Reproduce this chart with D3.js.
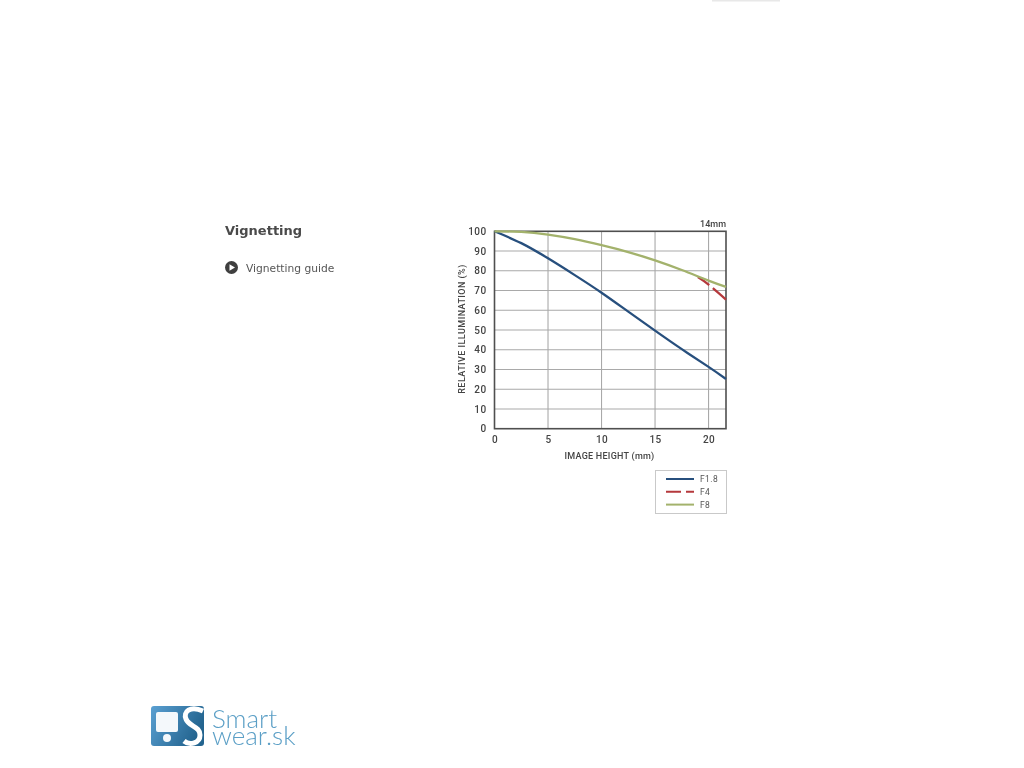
<!DOCTYPE html>
<html>
<head>
<meta charset="utf-8">
<script src="https://cdn.jsdelivr.net/npm/d3@7"></script>
<style>
body { margin: 0; background: #fff; overflow: hidden; }
svg { display: block; filter: blur(0.45px); }
.tick text { font-family: Roboto, sans-serif; font-size: 10px; font-weight: 500; fill: #444; letter-spacing: 0.4px; }
.label { font-family: Roboto, sans-serif; font-size: 9px; font-weight: 500; fill: #444; }
</style>
</head>
<body>
<div id="graph-location"></div>
<script>
var xTicks = [0, 5, 10, 15, 20];
var yTicks = [0, 10, 20, 30, 40, 50, 60, 70, 80, 90, 100];

var f18X = [0, 2.5, 5, 7.5, 10, 12.5, 15, 17.5, 20, 21.63];
var f18Y = [100, 94, 86.3, 77.8, 68.9, 59.3, 49.7, 40.3, 31.3, 25.2];
var f4X = [19, 20, 21.63];
var f4Y = [76.8, 73, 65.4];
var f8X = [0, 2.5, 5, 7.5, 10, 12.5, 15, 17.5, 20, 21.63];
var f8Y = [100, 99.7, 98.3, 96, 93, 89.5, 85.3, 80.4, 75, 71.8];

var seriesNames = ["F1.8", "F4", "F8"];
var seriesColors = ["#274f7d", "#b5393c", "#a3b26c"];

var svg = d3.select("#graph-location")
    .append("svg")
    .attr("width", 1024)
    .attr("height", 768);

var x = d3.scaleLinear().domain([0, 21.63]).range([494.5, 726]);
var y = d3.scaleLinear().domain([0, 100]).range([428.7, 231.3]);

//faint strip left at the top edge of the page
svg.append("rect").attr("x", 712).attr("y", 0).attr("width", 68).attr("height", 1.5).attr("fill", "#e8e8e8");

//gridlines
svg.append("g").selectAll("line").data(xTicks.slice(1))
    .join("line")
    .attr("x1", d => x(d)).attr("x2", d => x(d))
    .attr("y1", y(100)).attr("y2", y(0))
    .attr("stroke", "#a9a9a9").attr("stroke-width", 1.1);
svg.append("g").selectAll("line").data(yTicks.slice(1, -1))
    .join("line")
    .attr("x1", x(0)).attr("x2", x(21.63))
    .attr("y1", d => y(d)).attr("y2", d => y(d))
    .attr("stroke", "#a9a9a9").attr("stroke-width", 1.1);

//axes
svg.append("g")
    .attr("transform", "translate(0," + y(0) + ")")
    .call(d3.axisBottom(x).tickValues(xTicks).tickSize(0).tickPadding(7))
    .call(g => g.select(".domain").remove());
svg.append("g")
    .attr("transform", "translate(" + x(0) + ",0)")
    .call(d3.axisLeft(y).tickValues(yTicks).tickSize(0).tickPadding(8))
    .call(g => g.select(".domain").remove());

//frame
svg.append("rect")
    .attr("x", x(0)).attr("y", y(100))
    .attr("width", x(21.63) - x(0)).attr("height", y(0) - y(100))
    .attr("fill", "none").attr("stroke", "#4f4f4f").attr("stroke-width", 1.6);

var line = d3.line().x(d => x(d[0])).y(d => y(d[1])).curve(d3.curveNatural);

//curves
svg.append("path").datum(d3.zip(f18X, f18Y))
    .attr("d", line).attr("fill", "none")
    .attr("stroke", seriesColors[0]).attr("stroke-width", 2.3);
svg.append("path").datum(d3.zip(f4X, f4Y))
    .attr("d", line).attr("fill", "none")
    .attr("stroke", seriesColors[1]).attr("stroke-width", 2.3)
    .attr("stroke-dasharray", "14 5 20");
svg.append("path").datum(d3.zip(f8X, f8Y))
    .attr("d", line).attr("fill", "none")
    .attr("stroke", seriesColors[2]).attr("stroke-width", 2.3);

//axis labels
svg.append("text").attr("class", "label")
    .attr("x", 609.5).attr("y", 458.5)
    .attr("text-anchor", "middle")
    .attr("letter-spacing", 0.25)
    .text("IMAGE HEIGHT (mm)");
svg.append("text").attr("class", "label")
    .attr("transform", "translate(464.5,329) rotate(-90)")
    .attr("text-anchor", "middle")
    .attr("letter-spacing", 0.45)
    .text("RELATIVE ILLUMINATION  (%)");
svg.append("text").attr("class", "label")
    .attr("x", 726).attr("y", 227)
    .attr("text-anchor", "end")
    .text("14mm");

//legend
svg.append("rect")
    .attr("x", 655.5).attr("y", 470.5)
    .attr("width", 71).attr("height", 43)
    .attr("fill", "#fff").attr("stroke", "#c9c9c9");
var legend = svg.append("g").selectAll("g").data(seriesNames)
    .join("g")
    .attr("transform", (d, i) => "translate(666," + (479 + i * 12.8) + ")");
legend.append("line")
    .attr("x1", 0).attr("x2", 28)
    .attr("stroke", (d, i) => seriesColors[i])
    .attr("stroke-width", 2)
    .attr("stroke-dasharray", (d, i) => i === 1 ? "15 5 8" : null);
legend.append("text")
    .attr("x", 34).attr("y", 3)
    .attr("font-family", "Roboto, sans-serif")
    .attr("font-size", 8.5)
    .attr("letter-spacing", 0.4)
    .attr("fill", "#555")
    .text(d => d);

//left column
svg.append("text")
    .attr("x", 225).attr("y", 235)
    .attr("font-family", "'DejaVu Sans', sans-serif")
    .attr("font-size", 13)
    .attr("font-weight", "bold")
    .attr("fill", "#4a4a4a")
    .text("Vignetting");
svg.append("circle").attr("cx", 231.5).attr("cy", 267.5).attr("r", 6.5).attr("fill", "#3f3f3f");
svg.append("path").attr("d", "M229.5,264.3 L235,267.5 L229.5,270.7 Z").attr("fill", "#fff");
svg.append("text")
    .attr("x", 246).attr("y", 272)
    .attr("font-family", "'DejaVu Sans', sans-serif")
    .attr("font-size", 10.7)
    .attr("fill", "#555")
    .text("Vignetting guide");

//logo
var grad = svg.append("defs").append("linearGradient").attr("id", "logoBlue")
    .attr("x1", 0).attr("x2", 1).attr("y1", 0).attr("y2", 0.4);
grad.append("stop").attr("offset", 0).attr("stop-color", "#5aa0d2");
grad.append("stop").attr("offset", 1).attr("stop-color", "#23648f");
svg.append("rect").attr("x", 151).attr("y", 706).attr("width", 53).attr("height", 40).attr("rx", 3).attr("fill", "url(#logoBlue)");
svg.append("rect").attr("x", 156).attr("y", 712).attr("width", 22).attr("height", 20).attr("rx", 2).attr("fill", "#f4f8fb");
svg.append("circle").attr("cx", 167).attr("cy", 738).attr("r", 4).attr("fill", "#f4f8fb");
svg.append("path")
    .attr("d", "M203,711 C190,705 183,712 186,719 C189,727 200,726 200,735 C200,743 190,746 184,741")
    .attr("fill", "none").attr("stroke", "#fff").attr("stroke-width", 5);
var logoText = svg.append("text")
    .attr("font-family", "Lato, sans-serif").attr("font-weight", 300).attr("font-size", 26).attr("fill", "#5b9fc6");
logoText.append("tspan").attr("x", 212).attr("y", 728).text("Smart");
logoText.append("tspan").attr("x", 212).attr("y", 745).text("wear.sk");
</script>
</body>
</html>
